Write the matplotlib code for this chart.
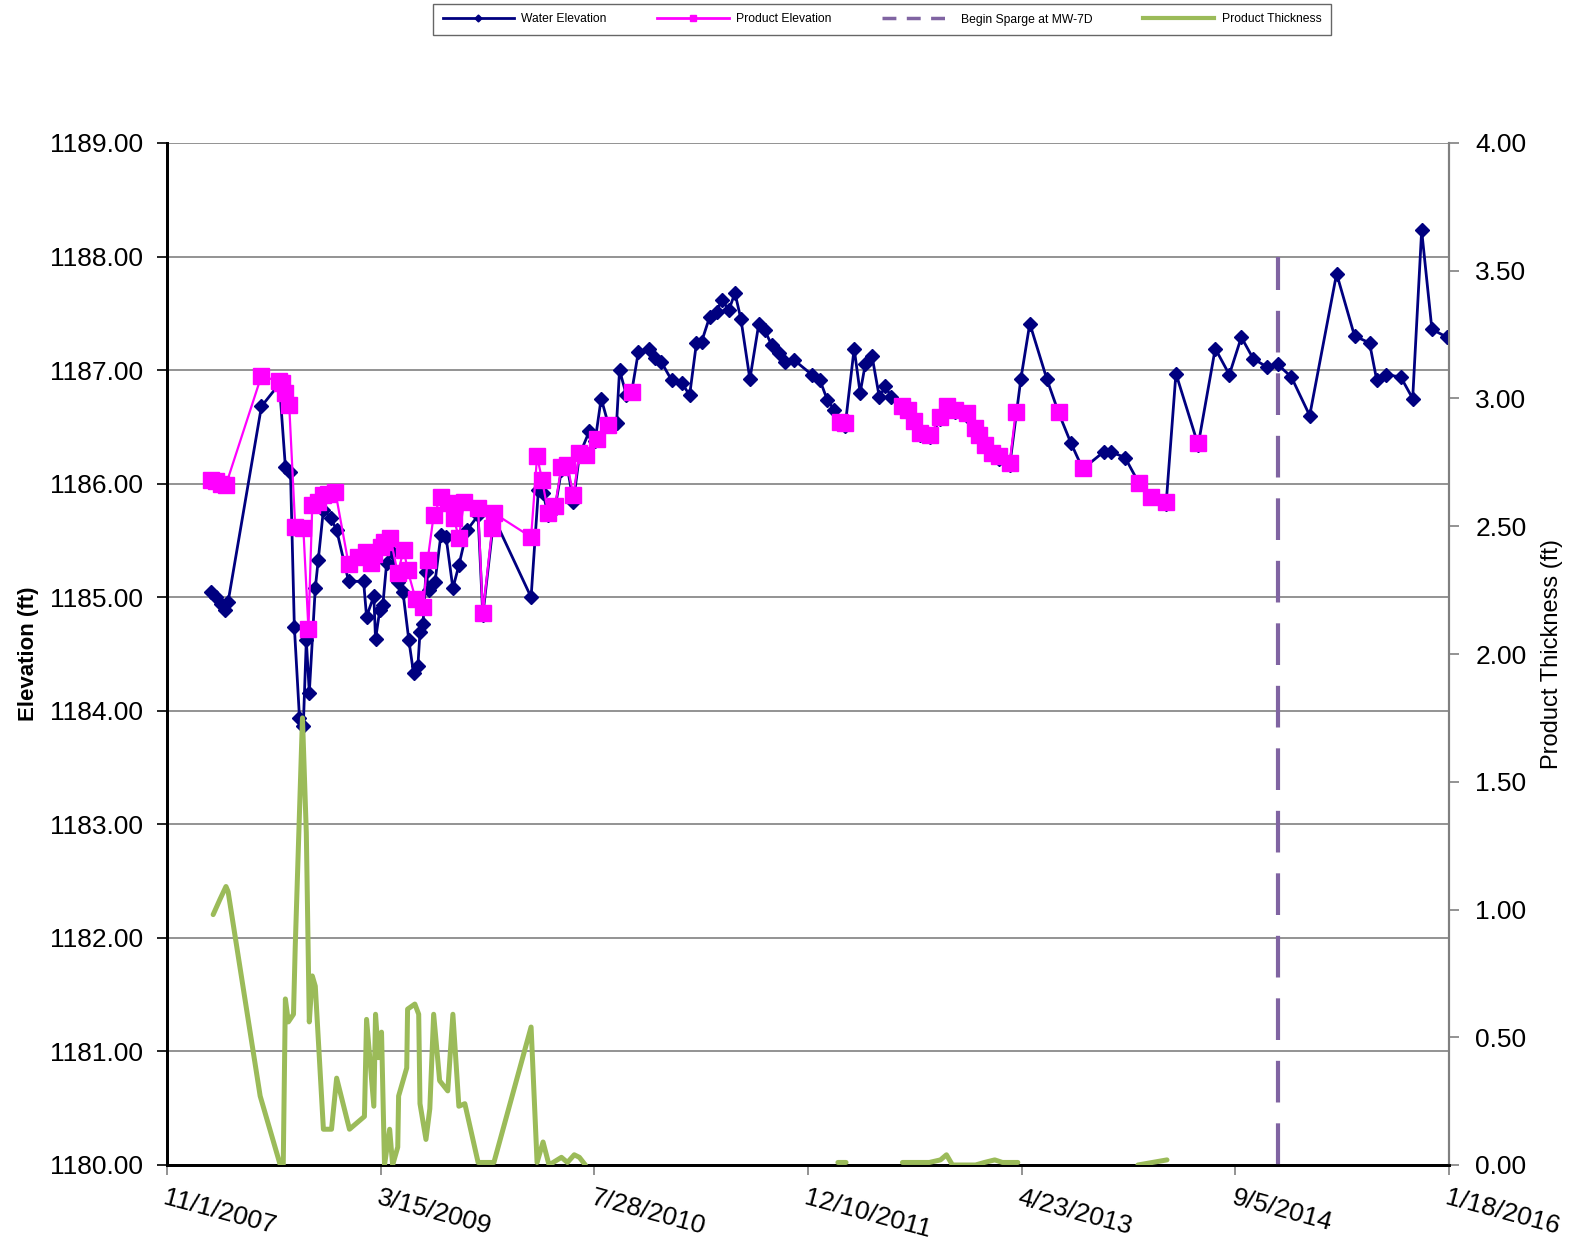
import numpy as np
import pandas as pd
import matplotlib
matplotlib.use("Agg")
import matplotlib.pyplot as plt
from matplotlib.lines import Line2D

plt.rcParams['font.family'] = ['Liberation Sans', 'DejaVu Sans']

# ---------------- data ----------------
start_date = "2007-11-01"   # day offsets below are counted from this date
tick_labels = ["11/1/2007", "3/15/2009", "7/28/2010", "12/10/2011",
               "4/23/2013", "9/5/2014", "1/18/2016"]

water_days = [103, 115, 127, 136, 143, 221, 263, 277, 289, 298, 310, 319, 326, 333, 347,
              354, 366, 383, 397, 425, 460, 467, 484, 488, 498, 505, 514, 526, 540, 552,
              566, 577, 587, 592, 599, 606, 613, 627, 641, 653, 669, 683, 702, 728, 739,
              765, 852, 869, 880, 892, 908, 923, 937, 951, 965, 988, 1002, 1016, 1033, 1052,
              1059, 1075, 1087, 1103, 1127, 1141, 1157, 1181, 1204, 1223, 1239, 1251, 1270,
              1286, 1298, 1315, 1329, 1343, 1364, 1385, 1399, 1415, 1432, 1446, 1467, 1509,
              1528, 1545, 1561, 1575, 1587, 1608, 1622, 1634, 1650, 1667, 1681, 1695, 1721,
              1735, 1749, 1763, 1786, 1810, 1826, 1845, 1873, 1890, 1901, 1915, 1930, 1948,
              1972, 1998, 2019, 2059, 2087, 2115, 2143, 2192, 2209, 2242, 2275, 2303, 2338,
              2361, 2413, 2453, 2486, 2514, 2542, 2573, 2599, 2631, 2674, 2737, 2779, 2814,
              2831, 2852, 2887, 2915, 2936, 2960, 2995]
water_elev = [1185.05, 1185.00, 1184.94, 1184.89, 1184.96, 1186.68, 1186.88, 1186.15, 1186.10,
              1184.74, 1183.94, 1183.87, 1184.62, 1184.16, 1185.08, 1185.33, 1185.77, 1185.70,
              1185.59, 1185.14, 1185.14, 1184.83, 1185.01, 1184.63, 1184.89, 1184.93, 1185.30,
              1185.40, 1185.13, 1185.05, 1184.62, 1184.33, 1184.39, 1184.69, 1184.76, 1185.22,
              1185.06, 1185.13, 1185.55, 1185.53, 1185.08, 1185.28, 1185.59, 1185.72, 1184.84,
              1185.70, 1185.00, 1185.94, 1185.92, 1185.72, 1185.78, 1186.12, 1186.14, 1185.84,
              1186.25, 1186.46, 1186.38, 1186.75, 1186.52, 1186.53, 1187.00, 1186.78, 1186.80,
              1187.16, 1187.19, 1187.11, 1187.07, 1186.91, 1186.89, 1186.78, 1187.24, 1187.25,
              1187.47, 1187.51, 1187.62, 1187.53, 1187.68, 1187.45, 1186.92, 1187.41, 1187.35,
              1187.22, 1187.15, 1187.07, 1187.09, 1186.96, 1186.91, 1186.74, 1186.65, 1186.53,
              1186.51, 1187.19, 1186.80, 1187.05, 1187.12, 1186.76, 1186.86, 1186.76, 1186.66,
              1186.63, 1186.53, 1186.43, 1186.41, 1186.57, 1186.66, 1186.63, 1186.60, 1186.47,
              1186.41, 1186.32, 1186.25, 1186.22, 1186.16, 1186.92, 1187.41, 1186.92, 1186.62,
              1186.36, 1186.13, 1186.28, 1186.28, 1186.23, 1186.00, 1185.87, 1185.82, 1186.97,
              1186.34, 1187.19, 1186.96, 1187.29, 1187.10, 1187.03, 1187.05, 1186.94, 1186.60,
              1187.85, 1187.30, 1187.24, 1186.91, 1186.96, 1186.94, 1186.75, 1188.23, 1187.36,
              1187.29]

nan = float("nan")
product_days = [103, 115, 127, 138, 221, 261, 270, 277, 286, 300, 319, 331, 340, 354, 364,
                376, 394, 425, 448, 465, 477, 484, 500, 507, 523, 540, 554, 563, 582, 599,
                610, 624, 641, 657, 671, 683, 695, 728, 739, 761, 765, 852, 866, 878, 892,
                908, 923, 937, 951, 965, 981, 1007, 1033, 1060, 1089, 1300, 1575, 1587, 1650,
                1721, 1735, 1749, 1763, 1786, 1810, 1826, 1845, 1873, 1890, 1901, 1915, 1930,
                1948, 1972, 1986, 2030, 2087, 2110, 2143, 2200, 2275, 2303, 2338, 2380, 2413]
product_elev = [1186.03, 1186.02, 1186.00, 1185.99, 1186.95, 1186.90, 1186.89, 1186.80, 1186.69,
                1185.62, 1185.61, 1184.72, 1185.81, 1185.84, 1185.90, 1185.91, 1185.93, 1185.29,
                1185.35, 1185.40, 1185.30, 1185.38, 1185.44, 1185.49, 1185.52, 1185.21, 1185.42,
                1185.24, 1184.98, 1184.91, 1185.33, 1185.72, 1185.88, 1185.83, 1185.70, 1185.52,
                1185.84, 1185.79, 1184.86, 1185.61, 1185.74, 1185.53, 1186.24, 1186.03, 1185.74,
                1185.80, 1186.15, 1186.16, 1185.90, 1186.27, 1186.25, 1186.39, 1186.52, nan,
                1186.81, nan, 1186.54, 1186.53, nan, 1186.68, 1186.65, 1186.55, 1186.45, 1186.43,
                1186.59, 1186.68, 1186.65, 1186.62, 1186.49, 1186.43, 1186.34, 1186.27, 1186.24,
                1186.18, 1186.63, nan, 1186.63, nan, 1186.14, nan, 1186.01, 1185.88, 1185.84,
                nan, 1186.36]

thick_days = [108, 124, 138, 143, 218, 265, 272, 277, 284, 296, 300, 317, 326, 333, 340, 347,
              366, 385, 397, 427, 462, 467, 484, 488, 495, 502, 509, 521, 528, 540, 542, 561,
              563, 580, 589, 592, 606, 615, 624, 638, 657, 669, 683, 697, 728, 746, 765, 852,
              866, 880, 894, 923, 937, 953, 965, 979, 1300, 1570, 1589, 1650, 1721, 1784, 1810,
              1824, 1838, 1892, 1913, 1937, 1955, 1991, 2150, 2272, 2340]
thick_ft = [0.98, 1.04, 1.09, 1.07, 0.27, 0.00, 0.00, 0.65, 0.56, 0.59, 0.85, 1.75, 1.30, 0.56,
            0.74, 0.70, 0.14, 0.14, 0.34, 0.14, 0.19, 0.57, 0.23, 0.59, 0.42, 0.52, 0.00, 0.14,
            0.00, 0.07, 0.27, 0.38, 0.61, 0.63, 0.59, 0.24, 0.10, 0.22, 0.59, 0.33, 0.29, 0.59,
            0.23, 0.24, 0.01, 0.01, 0.01, 0.54, 0.01, 0.09, 0.00, 0.03, 0.01, 0.04, 0.03, 0.00,
            nan, 0.01, 0.01, nan, 0.01, 0.01, 0.02, 0.04, 0.00, 0.00, 0.01, 0.02, 0.01, 0.01,
            nan, 0.00, 0.02]

sparge_day = 2599
sparge_elev = [1180.0, 1188.0]

# ---------------- helpers ----------------
base = pd.Timestamp(start_date)
def to_dates(days):
    return base + pd.to_timedelta(np.asarray(days, dtype=float), unit="D")

tick_dates = pd.to_datetime(tick_labels, format="%m/%d/%Y")

# ---------------- figure ----------------
fig = plt.figure(figsize=(15.7, 12.4), dpi=100)
ax = fig.add_axes([167 / 1570, 1 - 1165 / 1240, (1449 - 167) / 1570, (1165 - 143) / 1240])
ax2 = ax.twinx()

ax.plot(to_dates(water_days), water_elev, color="#000080", lw=2.0, marker="D",
        markersize=7.5, zorder=3, label="Water Elevation")
ax.plot(to_dates(product_days), product_elev, color="#FF00FF", lw=1.6, marker="s",
        markersize=11, markeredgecolor="#FF00FF", zorder=4, label="Product Elevation")
ax.plot(to_dates([sparge_day, sparge_day]), sparge_elev, color="#8064A2", lw=3,
        linestyle=(0, (10, 5)), zorder=5, label="Begin Sparge at MW-7D")
ax2.plot(to_dates(thick_days), thick_ft, color="#9BBB59", lw=3.6, zorder=3,
         solid_joinstyle="round", solid_capstyle="round", label="Product Thickness")

# axes styling
ax.set_ylim(1180, 1189)
ax.set_yticks(np.arange(1180, 1189.5, 1.0))
ax.set_yticklabels([f"{v:.2f}" for v in np.arange(1180, 1189.5, 1.0)], fontsize=19)
ax2.set_ylim(0, 4)
ax2.set_yticks(np.arange(0, 4.01, 0.5))
ax2.set_yticklabels([f"{v:.2f}" for v in np.arange(0, 4.01, 0.5)], fontsize=19)

ax.set_xlim(tick_dates[0], tick_dates[-1])
ax.set_xticks(tick_dates)
ax.set_xticklabels(tick_labels, fontsize=19, rotation=-15, ha="left", va="top",
                   rotation_mode="anchor")
ax.tick_params(axis="x", length=7, width=1.2, color="#808080", pad=8)
ax.tick_params(axis="y", length=7, width=1.2, pad=10)
ax2.tick_params(axis="y", length=7, width=1.2, color="#808080", pad=12)

ax.grid(axis="y", color="#808080", lw=1.2)
ax.set_axisbelow(True)

for a in (ax, ax2):
    a.spines["top"].set_visible(False)
    a.spines["left"].set_linewidth(2)
    a.spines["left"].set_color("black")
    a.spines["bottom"].set_linewidth(2)
    a.spines["bottom"].set_color("black")
    a.spines["right"].set_linewidth(1.5)
    a.spines["right"].set_color("#808080")

ax.set_ylabel("Elevation (ft)", fontsize=16, fontweight="bold", labelpad=8)
ax2.set_ylabel("Product Thickness (ft)", fontsize=17, labelpad=10)

# legend
handles = [
    Line2D([], [], color="#000080", lw=2, marker="D", markersize=3.5),
    Line2D([], [], color="#FF00FF", lw=2, marker="s", markersize=5),
    Line2D([], [], color="#8064A2", lw=2.5, linestyle=(0, (4, 3))),
    Line2D([], [], color="#9BBB59", lw=3),
]
labels = ["Water Elevation", "Product Elevation", "Begin Sparge at MW-7D", "Product Thickness"]
leg = fig.legend(handles, labels, loc="center", ncol=4, fontsize=8.7,
                 bbox_to_anchor=(882 / 1570, 1 - 19.5 / 1240),
                 frameon=True, fancybox=False, handlelength=5.9,
                 borderpad=0.8, borderaxespad=0, handletextpad=0.6, columnspacing=4.2)
leg.get_frame().set_edgecolor("#404040")
leg.get_frame().set_linewidth(1.0)

fig.savefig("out.png", dpi=100)
